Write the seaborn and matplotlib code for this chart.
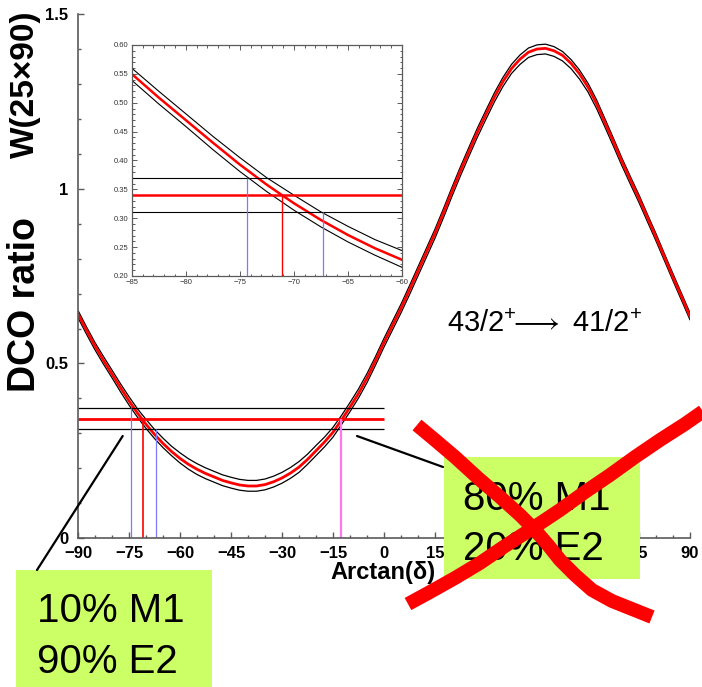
import numpy as np
import pandas as pd
import matplotlib
matplotlib.use("Agg")
import matplotlib.pyplot as plt
import seaborn as sns
from matplotlib.lines import Line2D
from matplotlib.patches import Rectangle
from matplotlib.ticker import MultipleLocator

# ---------------- data ----------------
theta = [-90, -87.5, -85, -82.5, -80, -77.5, -75, -72.5, -70, -67.5, -65, -62.5, -60,
         -57.5, -55, -52.5, -50, -47.5, -45, -42.5, -40, -37.5, -35, -32.5, -30, -27.5,
         -25, -22.5, -20, -17.5, -15, -12.5, -10, -7.5, -5, -2.5, 0, 2.5, 5, 7.5, 10,
         12.5, 15, 17.5, 20, 22.5, 25, 27.5, 30, 32.5, 35, 37.5, 40, 42.5, 45, 47.5,
         50, 52.5, 55, 57.5, 60, 62.5, 65, 67.5, 70, 72.5, 75, 77.5, 80, 82.5, 85, 87.5, 90]
dco_mid = [0.642, 0.595, 0.550, 0.509, 0.470, 0.431, 0.393, 0.358, 0.326, 0.297, 0.271, 0.248, 0.228,
           0.211, 0.197, 0.185, 0.175, 0.165, 0.158, 0.152, 0.149, 0.149, 0.153, 0.161, 0.172, 0.186,
           0.203, 0.225, 0.250, 0.275, 0.303, 0.338, 0.375, 0.414, 0.458, 0.508, 0.560, 0.609, 0.658,
           0.711, 0.765, 0.819, 0.873, 0.932, 0.993, 1.052, 1.108, 1.163, 1.214, 1.264, 1.308, 1.345,
           1.372, 1.392, 1.401, 1.403, 1.396, 1.383, 1.360, 1.330, 1.292, 1.245, 1.190, 1.135, 1.078,
           1.025, 0.973, 0.918, 0.862, 0.805, 0.747, 0.692, 0.635]
dco_upper = [0.652, 0.605, 0.560, 0.520, 0.481, 0.442, 0.405, 0.370, 0.340, 0.311, 0.286, 0.263, 0.244,
             0.227, 0.213, 0.201, 0.191, 0.181, 0.174, 0.168, 0.165, 0.165, 0.169, 0.177, 0.188, 0.202,
             0.219, 0.240, 0.265, 0.289, 0.317, 0.351, 0.388, 0.427, 0.471, 0.520, 0.572, 0.621, 0.670,
             0.723, 0.777, 0.831, 0.885, 0.944, 1.005, 1.064, 1.120, 1.175, 1.226, 1.276, 1.320, 1.357,
             1.384, 1.404, 1.413, 1.415, 1.408, 1.394, 1.371, 1.341, 1.303, 1.256, 1.201, 1.145, 1.088,
             1.035, 0.983, 0.927, 0.872, 0.814, 0.757, 0.701, 0.645]
dco_lower = [0.631, 0.584, 0.539, 0.498, 0.459, 0.419, 0.381, 0.346, 0.314, 0.285, 0.259, 0.236, 0.215,
             0.197, 0.182, 0.170, 0.160, 0.150, 0.143, 0.137, 0.134, 0.134, 0.138, 0.146, 0.157, 0.171,
             0.188, 0.211, 0.236, 0.261, 0.289, 0.325, 0.362, 0.401, 0.445, 0.495, 0.547, 0.596, 0.645,
             0.697, 0.751, 0.805, 0.859, 0.918, 0.979, 1.038, 1.094, 1.149, 1.200, 1.250, 1.294, 1.331,
             1.357, 1.377, 1.385, 1.387, 1.380, 1.367, 1.345, 1.315, 1.278, 1.231, 1.177, 1.122, 1.066,
             1.013, 0.961, 0.906, 0.851, 0.794, 0.737, 0.681, 0.625]

exp_levels = [0.372, 0.341, 0.311]          # upper, measured, lower DCO ratio
cross_main = [-74.3, -71.0, -67.2, -12.7]     # arctan(delta) solutions
cross_levels = [0.372, 0.341, 0.311, 0.341]

main_xticks = [-90, -75, -60, -45, -30, -15, 0, 15, 30, 45, 60, 75, 90]
main_xlabels = ["\u221290", "\u221275", "\u221260", "\u221245", "\u221230", "\u221215",
                "0", "15", "30", "45", "60", "75", "90"]
hidden_xlabels = ["30", "45", "60"]   # covered by the green box in the original
main_yticks = [0, 0.5, 1, 1.5]
main_ylabels = ["0", "0.5", "1", "1.5"]

inset_xticks = [-85, -80, -75, -70, -65, -60]
inset_xlabels = ["\u221285", "\u221280", "\u221275", "\u221270", "\u221265", "\u221260"]
inset_yticks = [0.20, 0.25, 0.30, 0.35, 0.40, 0.45, 0.50, 0.55, 0.60]
inset_ylabels = ["0.20", "0.25", "0.30", "0.35", "0.40", "0.45", "0.50", "0.55", "0.60"]
inset_levels = [0.370, 0.340, 0.311]
inset_cross = [-74.3, -71.1, -67.3]

df = pd.DataFrame({"theta": theta, "mid": dco_mid, "up": dco_upper, "lo": dco_lower})

# ---------------- style ----------------
sns.set_theme(style="white")
plt.rcParams["font.family"] = ["Liberation Sans", "DejaVu Sans"]
plt.rcParams["text.color"] = "black"
plt.rcParams["mathtext.fontset"] = "custom"
plt.rcParams["mathtext.rm"] = "Liberation Sans"
plt.rcParams["mathtext.it"] = "Liberation Sans:italic"
plt.rcParams["mathtext.bf"] = "Liberation Sans:bold"
plt.rcParams["mathtext.fallback"] = "stixsans"

SP = "#5a5a5a"
BLUE = "#7a7aff"
MAG = "#ff77ee"

fig = plt.figure(figsize=(7.02, 6.87), dpi=100)
ax = fig.add_axes([0.1111, 0.2169, 0.8718, 0.762])

sns.lineplot(data=df, x="theta", y="up", ax=ax, color="black", lw=0.9, sort=False, estimator=None)
sns.lineplot(data=df, x="theta", y="lo", ax=ax, color="black", lw=0.9, sort=False, estimator=None)
sns.lineplot(data=df, x="theta", y="mid", ax=ax, color="red", lw=2.0, sort=False, estimator=None)

ax.hlines([exp_levels[0], exp_levels[2]], -90, 0, color="black", lw=0.9)
ax.hlines([exp_levels[1]], -90, 0, color="red", lw=2.0)
vcols = [BLUE, "red", BLUE, MAG]
vlws = [0.9, 1.2, 0.9, 1.6]
for xc, yl, c, lw in zip(cross_main, cross_levels, vcols, vlws):
    ax.vlines(xc, 0, yl, color=c, lw=lw)

ax.set_xlim(-90, 90)
ax.set_ylim(0, 1.5)
ax.set_xlabel("")
ax.set_ylabel("")
for s in ["top", "right"]:
    ax.spines[s].set_visible(False)
for s in ["left", "bottom"]:
    ax.spines[s].set_color(SP)
    ax.spines[s].set_linewidth(1.2)
ax.set_xticks(main_xticks)
ax.set_xticklabels(main_xlabels, fontsize=12, fontweight="bold")
for t in ax.get_xticklabels():
    if t.get_text() in hidden_xlabels:
        t.set_visible(False)
ax.set_yticks(main_yticks)
ax.set_yticklabels(main_ylabels, fontsize=12, fontweight="bold")
ax.xaxis.set_minor_locator(MultipleLocator(5))
ax.yaxis.set_minor_locator(MultipleLocator(0.1))
ax.tick_params(which="both", direction="in", bottom=True, left=True, top=False, right=False,
               color=SP, width=1.0, labelcolor="black")
ax.tick_params(which="major", length=4.5)
ax.tick_params(which="minor", length=2.5)
ax.tick_params(axis="x", pad=5.5)
ax.tick_params(axis="y", pad=7)

# ---------------- inset ----------------
axin = fig.add_axes([0.1876, 0.5983, 0.3850, 0.3362])
axin.set_facecolor("white")
sns.lineplot(data=df, x="theta", y="up", ax=axin, color="black", lw=0.8, sort=False, estimator=None)
sns.lineplot(data=df, x="theta", y="lo", ax=axin, color="black", lw=0.8, sort=False, estimator=None)
sns.lineplot(data=df, x="theta", y="mid", ax=axin, color="red", lw=1.8, sort=False, estimator=None)
axin.axhline(inset_levels[0], color="black", lw=0.8)
axin.axhline(inset_levels[2], color="black", lw=0.8)
axin.axhline(inset_levels[1], color="red", lw=1.8)
for xc, yl, c, lw in zip(inset_cross, inset_levels, [BLUE, "red", BLUE], [0.9, 1.0, 0.9]):
    axin.vlines(xc, 0.2, yl, color=c, lw=lw)
axin.set_xlim(-85, -60)
axin.set_ylim(0.2, 0.6)
axin.set_xlabel("")
axin.set_ylabel("")
for s in axin.spines.values():
    s.set_visible(True)
    s.set_color(SP)
    s.set_linewidth(0.9)
axin.set_xticks(inset_xticks)
axin.set_xticklabels(inset_xlabels, fontsize=5.5, color="#333333")
axin.set_yticks(inset_yticks)
axin.set_yticklabels(inset_ylabels, fontsize=5.5, color="#333333")
axin.xaxis.set_minor_locator(MultipleLocator(1))
axin.yaxis.set_minor_locator(MultipleLocator(0.01))
axin.tick_params(which="both", direction="in", bottom=True, left=True, top=True, right=True,
                 color=SP, width=0.7, pad=2.5)
axin.tick_params(which="major", length=3.5)
axin.tick_params(which="minor", length=1.8)

# ---------------- labels ----------------
fig.text(25 / 702, 1 - 84 / 687, "W(25\u00d790)", rotation=90, ha="center", va="center",
         fontsize=24, fontweight="bold")
fig.text(25 / 702, 1 - 304 / 687, "DCO ratio", rotation=90, ha="center", va="center",
         fontsize=27, fontweight="bold")
fig.text(383 / 702, 1 - 572 / 687, "Arctan(\u03b4)", ha="center", va="center",
         fontsize=17, fontweight="bold")
fig.text(447 / 702, 1 - 332 / 687, "43/2$^{+}\\!\\!\\longrightarrow$ 41/2$^{+}$", ha="left",
         va="baseline", fontsize=21)

# annotation pointers
fig.add_artist(Line2D([122.7 / 702, 37 / 702], [1 - 436 / 687, 1 - 570 / 687],
                      transform=fig.transFigure, color="black", lw=1.6))
fig.add_artist(Line2D([357 / 702, 443 / 702], [1 - 436 / 687, 1 - 467 / 687],
                      transform=fig.transFigure, color="black", lw=1.6))

# green boxes
GREEN = "#ccff66"
fig.add_artist(Rectangle((16 / 702, 0.0), 196 / 702, 117 / 687, transform=fig.transFigure,
                         facecolor=GREEN, edgecolor="none"))
fig.add_artist(Rectangle((444 / 702, 1 - 579 / 687), 196 / 702, 122 / 687, transform=fig.transFigure,
                         facecolor=GREEN, edgecolor="none"))
fig.text(37 / 702, 1 - 621.7 / 687, "10% M1", fontsize=29, va="baseline", ha="left")
fig.text(37 / 702, 1 - 673 / 687, "90% E2", fontsize=29, va="baseline", ha="left")
fig.text(463 / 702, 1 - 510 / 687, "80% M1", fontsize=29, va="baseline", ha="left")
fig.text(463 / 702, 1 - 560 / 687, "20% E2", fontsize=29, va="baseline", ha="left")

# red cross over the rejected solution
strokeA = [(417, 425), (435, 440), (455, 457), (478, 478), (500, 497), (520, 515), (535, 530),
           (548, 545), (560, 560), (575, 575), (592, 590), (612, 601), (632, 609), (652, 617)]
strokeB = [(408, 604), (430, 592), (455, 578), (480, 563), (505, 546), (533, 528), (560, 510),
           (585, 492), (610, 475), (635, 457), (660, 440), (685, 424), (705, 410)]
for st in (strokeA, strokeB):
    fig.add_artist(Line2D([p[0] / 702 for p in st], [1 - p[1] / 687 for p in st],
                          transform=fig.transFigure, color="#ff0000", lw=10,
                          solid_capstyle="butt", solid_joinstyle="round", zorder=10))

fig.savefig("out.png", dpi=100)
